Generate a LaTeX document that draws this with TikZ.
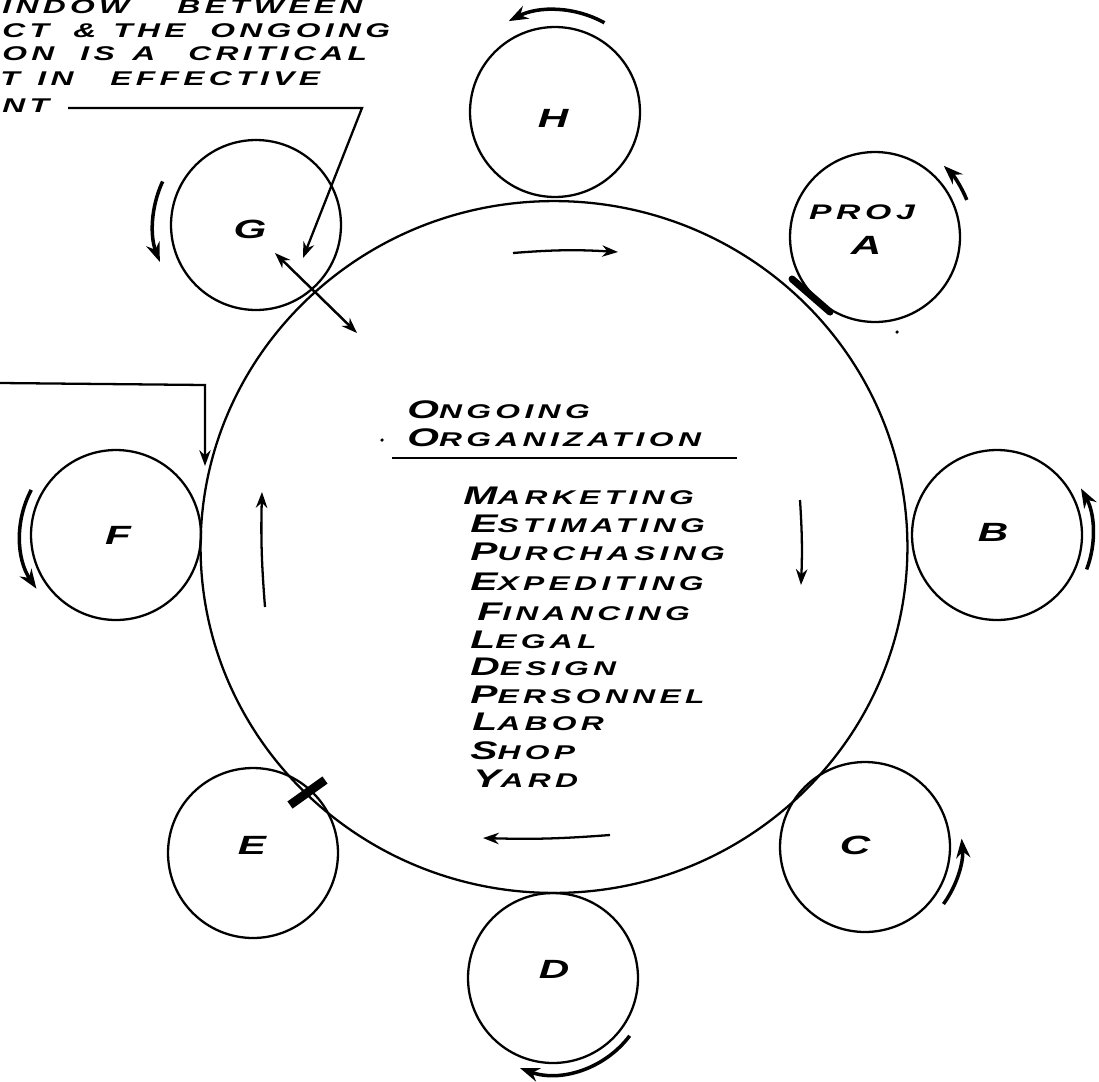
\documentclass[tikz,border=0pt]{standalone}
\usepackage{fontspec}
\usepackage{graphicx}
\newfontfamily\hand[LetterSpace=22,FakeStretch=1.6]{Liberation Sans}
\usetikzlibrary{arrows.meta,shapes.geometric}
\newcommand\Bg[1]{{\fontsize{14.5pt}{15pt}\selectfont #1}}
\tikzset{
  hw/.style={font=\hand\bfseries\itshape\fontsize{11.3pt}{14pt}\selectfont, inner sep=0pt, anchor=base west},
  lbl/.style={font=\hand\bfseries\itshape\fontsize{15pt}{16pt}\selectfont, inner sep=0pt},
  bigc/.style={ellipse, draw, line width=1.3pt, minimum width=14.14cm, minimum height=13.84cm, inner sep=0pt},
  wheel/.style={circle, draw, line width=1.3pt, minimum size=3.4cm, inner sep=0pt},
  flow/.style={line width=1.3pt, -{Stealth[length=9pt,width=6.5pt]}},
  rot/.style={line width=2pt, -{Stealth[length=11pt,width=8pt]}},
  dflow/.style={line width=1.4pt, {Stealth[length=9pt,width=6.5pt]}-{Stealth[length=9pt,width=6.5pt]}},
  lead/.style={line width=1.3pt},
  brake/.style={line width=5pt},
  dotm/.style={fill, circle, inner sep=0pt, minimum size=2pt}
}
\begin{document}
\begin{tikzpicture}[x=0.02cm, y=-0.02cm]
\useasboundingbox (0,0) rectangle (1099,1082);

% main organization circle and the project wheels
\node[bigc] (org) at (554,547) {};
\node[wheel] (H) at (555,112) {};
\node[wheel] (A) at (875,237) {};
\node[wheel] (B) at (997,535) {};
\node[wheel] (C) at (865,847) {};
\node[wheel] (D) at (553,978) {};
\node[wheel] (E) at (253,853) {};
\node[wheel] (F) at (116,535) {};
\node[wheel] (G) at (256,225) {};

% wheel labels
\node[lbl] (lH) at (553,118) {H};
\node[lbl, font=\hand\bfseries\itshape\fontsize{12pt}{13pt}\selectfont] (lA1) at (862,212) {PROJ};
\node[lbl] (lA2) at (866,245) {A};
\node[lbl] (lB) at (993,532) {B};
\node[lbl] (lC) at (855,845) {C};
\node[lbl] (lD) at (554,969) {D};
\node[lbl] (lE) at (252,845) {E};
\node[lbl] (lF) at (118,535) {F};
\node[lbl] (lG) at (250,229) {G};

% text in the centre
\node[hw] (on1) at (407,418) {\Bg{O}NGOING};
\node[hw] (on2) at (407,446) {\Bg{O}RGANIZATION};
\coordinate (ul1) at (392,458);
\coordinate (ul2) at (737,458);
\draw[lead] (ul1) -- (ul2);
\node[hw] (m1) at (463,504) {\Bg{M}ARKETING};
\node[hw] (m2) at (470,532) {\Bg{E}STIMATING};
\node[hw] (m3) at (470,560) {\Bg{P}URCHASING};
\node[hw] (m4) at (470,590) {\Bg{E}XPEDITING};
\node[hw] (m5) at (477,620) {\Bg{F}INANCING};
\node[hw] (m6) at (470,648) {\Bg{L}EGAL};
\node[hw] (m7) at (470,675) {\Bg{D}ESIGN};
\node[hw] (m8) at (470,703) {\Bg{P}ERSONNEL};
\node[hw] (m9) at (472,730) {\Bg{L}ABOR};
\node[hw] (m10) at (470,759) {\Bg{S}HOP};
\node[hw] (m11) at (473,787) {\Bg{Y}ARD};

% cropped note at top left
\node[hw] (t11) at (2,13) {INDOW};
\node[hw] (t12) at (177,13) {BETWEEN};
\node[hw] (t21) at (2,37) {CT};
\node[hw] (t22) at (73,37) {\&};
\node[hw] (t23) at (113,37) {THE};
\node[hw] (t24) at (210,37) {ONGOING};
\node[hw] (t31) at (2,60) {ON};
\node[hw] (t32) at (80,60) {IS};
\node[hw] (t33) at (132,60) {A};
\node[hw] (t34) at (188,60) {CRITICAL};
\node[hw] (t41) at (0,85) {T};
\node[hw] (t42) at (37,85) {IN};
\node[hw] (t43) at (110,85) {EFFECTIVE};
\node[hw] (t51) at (2,112) {NT};

% leader from the note to the G window
\coordinate (ls) at (68,108);
\coordinate (lk) at (362,108);
\coordinate (lt) at (303,258);
\draw[flow] (ls) -- (lk) -- (lt);

% leader from the left (cropped) to the F window
\coordinate (fs) at (0,383);
\coordinate (fk) at (205,385);
\coordinate (ft) at (205,466);
\draw[flow] (fs) -- (fk) -- (ft);

% double arrow through the G window
\coordinate (gd1) at (275,253);
\coordinate (gd2) at (357,333);
\draw[dflow] (gd1) -- (gd2);

% rotation of the organization (clockwise)
\coordinate (it1) at (513,253);
\coordinate (it2) at (618,252);
\draw[flow] (it1) to[bend left=4] (it2);
\coordinate (ir1) at (800,500);
\coordinate (ir2) at (801,585);
\draw[flow] (ir1) to[bend left=3] (ir2);
\coordinate (ib1) at (610,835);
\coordinate (ib2) at (483,838);
\draw[flow] (ib1) to[bend left=3] (ib2);
\coordinate (il1) at (265,607);
\coordinate (il2) at (262,492);
\draw[flow] (il1) to[bend left=3] (il2);

% rotation of the project wheels
\draw[rot] (H.center) ++(-61:102) arc[start angle=-61, end angle=-117, radius=102];
\draw[rot] (A.center) ++(-22:99) arc[start angle=-22, end angle=-46, radius=99];
\draw[rot] (B.center) ++(21:96) arc[start angle=21, end angle=-29, radius=96];
\draw[rot] (C.center) ++(36:97) arc[start angle=36, end angle=-5, radius=97];
\draw[rot] (D.center) ++(37:96) arc[start angle=37, end angle=110, radius=96];
\draw[rot] (F.center) ++(208:96) arc[start angle=208, end angle=146, radius=96];
\draw[rot] (G.center) ++(205:103) arc[start angle=205, end angle=159, radius=103];

% windows between project and organization
\coordinate (eb1) at (290,805);
\coordinate (eb2) at (325,780);
\draw[brake] (eb1) -- (eb2);
\coordinate (am1) at (792,279);
\coordinate (am2) at (830,312);
\draw[line width=4pt, line cap=round] (am1) -- (am2);

% stray marks
\node[dotm] (d1) at (897,332) {};
\node[dotm] (d2) at (382,440) {};
\end{tikzpicture}
\end{document}
